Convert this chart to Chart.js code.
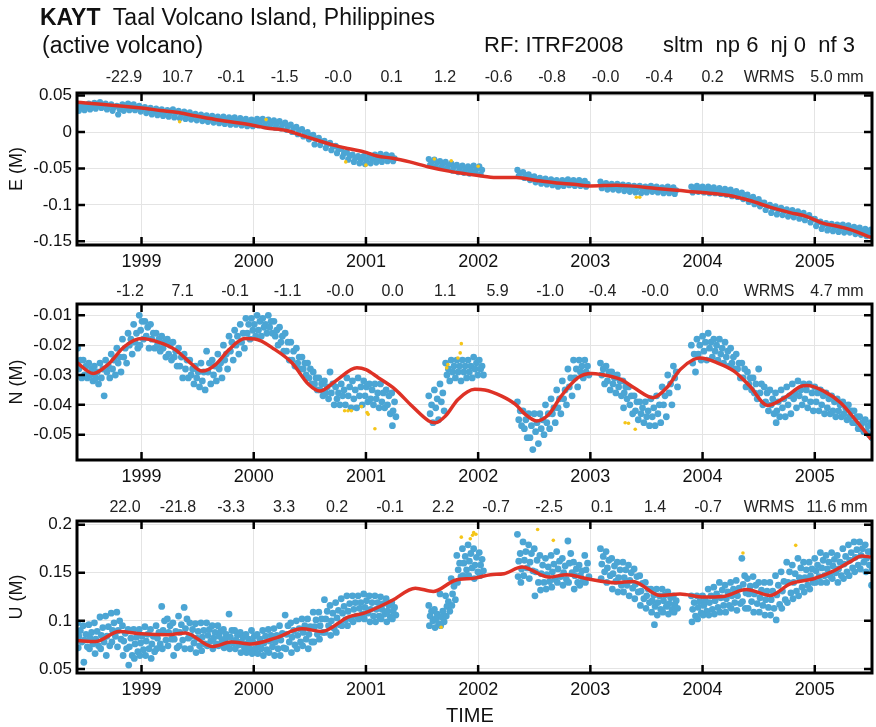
<!DOCTYPE html>
<html>
<head>
<meta charset="utf-8">
<title>KAYT Taal Volcano Island</title>
<script src="https://cdn.jsdelivr.net/npm/chart.js@4.4.1/dist/chart.umd.min.js"></script>
<style>
  body { margin: 0; background: #fff; }
  #page { position: relative; width: 876px; height: 727px; font-family: "Liberation Sans", Arial, sans-serif; color: #111; }
  #page canvas { position: absolute; left: 0; top: 0; }
  .txt { position: absolute; white-space: pre; line-height: 1; }
</style>
</head>
<body>
<div id="page">
  <canvas id="chartE" width="876" height="727"></canvas>
  <canvas id="chartN" width="876" height="727"></canvas>
  <canvas id="chartU" width="876" height="727"></canvas>
  <div class="txt" style="left:40px;top:6px;font-size:23px"><b>KAYT</b>  Taal Volcano Island, Philippines</div>
  <div class="txt" style="left:42px;top:34px;font-size:23px">(active volcano)</div>
  <div class="txt" style="left:484px;top:34px;font-size:22px">RF: ITRF2008</div>
  <div class="txt" style="left:663px;top:34px;font-size:22px">sltm  np 6  nj 0  nf 3</div>
  <div class="txt" style="left:446px;top:705px;font-size:20px">TIME</div>
</div>
<script>
// station KAYT - daily positions (mm)
const yearTicks = [1999, 2000, 2001, 2002, 2003, 2004, 2005];
const eTicks = [-0.15, -0.1, -0.05, 0, 0.05];
const nTicks = [-0.05, -0.04, -0.03, -0.02, -0.01];
const uTicks = [0.05, 0.1, 0.15, 0.2];

const eStats = ['-22.9', '10.7', '-0.1', '-1.5', '-0.0', '0.1', '1.2', '-0.6', '-0.8', '-0.0', '-0.4', '0.2'];
const nStats = ['-1.2', '7.1', '-0.1', '-1.1', '-0.0', '0.0', '1.1', '5.9', '-1.0', '-0.4', '-0.0', '0.0'];
const uStats = ['22.0', '-21.8', '-3.3', '3.3', '0.2', '-0.1', '2.2', '-0.7', '-2.5', '0.1', '1.4', '-0.7'];
const eWrms = '5.0 mm';
const nWrms = '4.7 mm';
const uWrms = '11.6 mm';

// start of each 0.05 yr bin, and where the k-th solution of a bin falls inside it
const epochs = [
  1998.43, 1998.48, 1998.53, 1998.58, 1998.63, 1998.68, 1998.73, 1998.78, 1998.83, 1998.88, 1998.93, 1998.98,
  1999.03, 1999.08, 1999.13, 1999.18, 1999.23, 1999.28, 1999.33, 1999.38, 1999.43, 1999.48,
  1999.53, 1999.58, 1999.63, 1999.68, 1999.73, 1999.78, 1999.83, 1999.88, 1999.93, 1999.98,
  2000.03, 2000.08, 2000.13, 2000.18, 2000.23, 2000.28, 2000.33, 2000.38, 2000.43, 2000.48,
  2000.53, 2000.58, 2000.63, 2000.68, 2000.73, 2000.78, 2000.83, 2000.88, 2000.93, 2000.98,
  2001.03, 2001.08, 2001.13, 2001.18, 2001.23,
  2001.56, 2001.61, 2001.66, 2001.71, 2001.76, 2001.81, 2001.86, 2001.91, 2001.96, 2002.01,
  2002.35, 2002.40, 2002.45, 2002.50, 2002.55, 2002.60, 2002.65, 2002.70, 2002.75, 2002.80, 2002.85, 2002.90, 2002.95,
  2003.09, 2003.14, 2003.19, 2003.24, 2003.29, 2003.34, 2003.39, 2003.44, 2003.49, 2003.54, 2003.59, 2003.64, 2003.69, 2003.74,
  2003.90, 2003.95, 2004.00, 2004.05, 2004.10, 2004.15, 2004.20, 2004.25, 2004.30, 2004.35, 2004.40,
  2004.45, 2004.50, 2004.55, 2004.60, 2004.65, 2004.70, 2004.75, 2004.80, 2004.85, 2004.90, 2004.95,
  2005.00, 2005.05, 2005.10, 2005.15, 2005.20, 2005.25, 2005.30, 2005.35, 2005.40, 2005.45, 2005.50
];
const binOffsets = [0, 0.025, 0.012, 0.037, 0.006, 0.031];

const eObs = [
  [37,33,29],[38,34,30],[39,35,31],[40,36,32],[41,37,33],[39,35,31],[38,34,29],[36,31,24],[38,33,29],[39,34,30],[38,34,30],[36,32,28],
  [34,30,26],[33,28,24],[32,27,23],[31,27,22],[30,26,21],[31,26,20],[29,24,19],[28,23,18],[27,22,17],[25,21,16],
  [24,19,15],[23,19,14],[22,18,13],[21,17,12],[21,16,11],[20,15,10],[20,15,10],[19,14,9],[18,13,8],[17,12,8],
  [18,13,9],[18,13,8],[17,12,7],[16,11,6],[15,10,5],[13,8,3],[10,5,0],[7,2,-3],[4,-1,-6],[0,-5,-10],
  [-4,-9,-17],[-8,-13,-18],[-12,-17,-22],[-15,-20,-25],[-19,-24,-29],[-23,-29,-34],[-28,-33,-38],[-31,-36,-41],[-33,-38,-43],[-33,-38,-44],
  [-32,-37,-43],[-31,-36,-42],[-30,-35,-41],[-31,-35,-40],[-32,-36,-40],
  [-37,-41,-45],[-38,-42,-47],[-40,-44,-48],[-41,-46,-50],[-43,-48,-53],[-45,-50,-55],[-46,-51,-56],[-47,-52,-57],[-46,-51,-56],[-47,-52,-58],
  [-52,-56,-60],[-55,-59,-63],[-58,-62,-66],[-61,-65,-69],[-63,-67,-71],[-64,-68,-72],[-65,-69,-73],[-66,-70,-75],[-66,-70,-74],[-65,-69,-73],[-66,-70,-74],[-66,-70,-74],[-67,-71,-75],
  [-68,-72,-77],[-70,-74,-79],[-71,-75,-79],[-71,-75,-80],[-72,-76,-81],[-73,-77,-82],[-74,-78,-83],[-74,-78,-84],[-75,-79,-83],[-74,-78,-82],[-75,-79,-83],[-76,-80,-84],[-75,-79,-84],[-76,-80,-85],
  [-75,-79,-83],[-74,-78,-82],[-75,-79,-83],[-75,-79,-84],[-76,-80,-84],[-77,-81,-85],[-78,-82,-86],[-79,-83,-88],[-81,-85,-89],[-83,-87,-92],[-86,-91,-96],
  [-89,-94,-99],[-92,-97,-102],[-97,-102,-107],[-100,-105,-111],[-102,-107,-113],[-104,-109,-114],[-106,-111,-116],[-107,-112,-117],[-109,-114,-119],[-111,-116,-121],[-114,-119,-124],
  [-119,-124,-129],[-123,-128,-133],[-125,-130,-135],[-126,-131,-136],[-127,-132,-137],[-127,-132,-138],[-128,-133,-138],[-130,-135,-140],[-131,-136,-141],[-133,-138,-143],[-134,-139,-144]
];

const nObs = [
  [-21,-25,-28,-31],[-25,-27,-30,-31],[-26,-28,-30,-32],[-27,-29,-31,-33],[-26,-28,-31,-37],[-25,-27,-29,-31],
  [-23,-25,-28,-30],[-21,-24,-26,-29],[-18,-21,-24,-26],[-16,-18,-20,-23],[-13,-16,-19,-21],[-10,-12,-15,-18,-20],
  [-12,-14,-17,-21],[-13,-16,-18,-21],[-16,-18,-20,-22],[-17,-19,-21,-24],[-18,-20,-23,-25],[-19,-22,-24,-27],
  [-21,-24,-27,-31],[-23,-25,-28,-31],[-25,-28,-30,-33],[-27,-29,-31,-34],
  [-26,-29,-32,-35],[-22,-26,-29,-33],[-25,-27,-30,-32],[-23,-26,-28,-31],[-20,-23,-25,-28],[-17,-19,-22,-25],
  [-15,-17,-20,-23],[-13,-16,-19,-21],[-11,-13,-16,-18],[-11,-13,-15,-17],
  [-10,-12,-15,-17],[-11,-13,-14,-16],[-10,-12,-14,-16],[-12,-15,-17,-20],[-14,-17,-19,-22],[-16,-19,-22,-25],
  [-19,-22,-25,-27],[-21,-24,-26,-28],[-24,-26,-28,-30],[-26,-28,-31,-33],
  [-29,-31,-33,-35],[-31,-33,-35,-37],[-32,-34,-36,-38],[-29,-33,-36,-40],[-34,-36,-38,-40],[-33,-35,-37,-40],
  [-31,-34,-37,-41],[-32,-35,-38,-41],[-31,-34,-37,-40],[-32,-34,-37,-39],
  [-33,-35,-38,-40],[-33,-36,-38,-41],[-33,-36,-39,-41],[-35,-37,-40,-43],[-36,-39,-42,-44,-47],
  [-37,-40,-43,-46],[-35,-38,-41,-45],[-33,-36,-39,-42],[-26,-28,-30,-32],[-25,-27,-29,-31],
  [-25,-27,-29,-32],[-25,-27,-29,-31],[-25,-27,-29,-31],[-24,-26,-28,-30],[-25,-27,-28,-30],
  [-39,-42,-45,-47],[-42,-45,-48,-51],[-43,-47,-51,-55],[-43,-46,-49,-53],[-43,-45,-48,-50],[-40,-43,-46,-48],
  [-38,-41,-43,-46],[-35,-38,-41,-43],[-32,-35,-38,-40],[-28,-31,-34,-37],[-25,-28,-31,-34],[-25,-27,-29,-31],[-25,-27,-29,-30],
  [-26,-28,-30,-33],[-27,-29,-32,-35],[-29,-31,-33,-36],[-30,-32,-34,-37],[-32,-34,-36,-38,-41],[-34,-37,-40,-43],
  [-37,-39,-42,-45],[-39,-41,-43,-46],[-39,-42,-44,-47],[-38,-41,-44,-47],[-37,-40,-43,-46],[-34,-37,-40,-44],
  [-30,-33,-36,-40],[-27,-29,-31,-34],
  [-20,-23,-26,-29],[-18,-20,-23,-25],[-17,-19,-22,-25],[-16,-19,-21,-24],[-18,-20,-22,-25],[-18,-21,-23,-26],
  [-19,-22,-24,-27],[-21,-24,-26,-28],[-23,-26,-28,-31],[-26,-28,-31,-34],[-29,-31,-33,-35],
  [-31,-33,-36,-38],[-28,-33,-36,-40],[-34,-36,-39,-42],[-35,-38,-40,-43],[-36,-39,-42,-44,-46],[-35,-38,-41,-44],
  [-34,-37,-40,-43],[-33,-36,-38,-41],[-32,-35,-37,-40],[-33,-35,-38,-41],[-33,-36,-39,-42],
  [-34,-36,-39,-42],[-35,-37,-40,-43],[-36,-38,-41,-43],[-37,-39,-42,-44],[-38,-40,-42,-44],[-39,-41,-43,-45],
  [-40,-42,-44,-46],[-42,-44,-46,-48],[-44,-46,-48,-49],[-45,-47,-49,-50],[-46,-48,-51,-54]
];

const uObs = [
  [98,90,84,78,72],[95,86,80,73,57],[96,88,82,76,71],[98,89,81,74,66],[104,93,85,78,71],[105,94,84,74,64],
  [108,98,90,84,78],[109,100,90,81,73],[95,87,79,71,64],[91,82,73,64,54],[91,83,76,68,61],[91,84,77,70,64],
  [94,86,79,71,64],[91,84,76,68,61],[95,88,82,76,71],[115,100,90,80,71],[102,95,88,81,74],[98,89,81,72,64],
  [105,96,88,80,74],[114,102,92,82,71],[98,91,84,77,71],[97,89,82,74,67],
  [98,90,83,76,69],[98,91,85,79,74],[95,88,82,76,71],[95,89,84,79,74],[91,86,81,76,72],[107,90,83,77,71],
  [90,85,80,75,71],[88,83,78,72,67],[86,81,76,71,67],[90,84,78,71,66],
  [86,81,76,71,66],[90,84,77,70,64],[91,85,79,73,67],[92,85,78,71,64],[95,87,80,72,64],[106,95,86,78,71],
  [98,90,83,75,67],[100,92,85,78,71],[102,95,88,81,74],[102,94,86,78,71],
  [109,101,94,86,78],[109,102,95,88,81],[122,110,102,95,88],[116,108,100,92,85],[119,111,103,96,88],[123,115,108,101,95],
  [126,118,110,102,95],[126,119,112,105,99],[126,119,113,107,102],[128,121,114,108,102],
  [126,119,112,105,99],[126,119,112,105,99],[125,118,112,107,102],[123,116,110,104,99],[119,114,110,106,102],
  [116,110,105,100,95],[112,107,102,97,93],[128,110,104,99,95],[126,120,115,110,105],[144,136,128,122,116],
  [168,160,153,146,140],[175,167,160,153,147],[179,170,162,155,147],[175,166,158,151,144],[171,164,158,152,147],
  [190,170,162,154,146,140],[182,172,163,155,147],[179,170,161,152,144],[175,163,151,140,126],[168,158,149,140,132],
  [165,156,148,141,133],[168,159,151,143,135],[172,162,154,146,140],[165,157,150,143,137],[183,170,160,150,140],
  [161,154,147,140,133],[158,152,147,142,137],[168,160,153,146,140],
  [175,167,159,151,144],[172,163,155,147,140],[165,157,149,141,133],[161,153,145,137,130],[161,153,145,137,130],
  [158,150,142,134,126],[154,146,138,130,123],[147,139,131,123,116],[140,133,126,119,113],[133,127,121,115,109,96],
  [133,126,119,112,106],[133,127,121,115,109],[130,124,118,112,107],[126,121,117,113,109],
  [126,119,112,105,99],[126,120,114,108,102],[126,121,116,110,106],[133,126,119,112,106],[135,128,121,114,107],
  [140,132,124,116,109],[137,130,123,116,109],[140,133,126,119,113],[142,134,126,118,111],[165,147,138,129,120,113],
  [144,136,128,120,113],
  [146,137,128,118,109],[140,132,124,116,109],[140,131,122,114,106],[140,131,122,113,106],[147,137,127,117,101],
  [151,141,131,122,113],[161,151,140,129,119],[158,149,140,131,123],[165,155,145,135,126],[161,153,145,137,130],
  [161,154,147,140,133],
  [165,158,152,146,140],[171,163,155,147,140],[168,161,154,147,140],[171,164,157,150,144],[168,161,154,147,140],
  [175,167,159,151,144],[179,171,163,155,147],[182,174,166,158,151],[182,175,168,161,154],[179,172,165,158,151],
  [172,163,154,145,137]
];

// points flagged as outliers (yellow)
const eOut = [[1999.34,14],[2000.11,17],[2000.82,-41],[2001.0,-45.5],[2001.61,-37],[2001.76,-39.5],[2002.0,-47],[2003.41,-89.5],[2003.44,-89.5]];
const nOut = [[2000.81,-42],[2000.84,-42],[2000.87,-42],[2000.96,-40.6],[2001.01,-42.6],[2001.02,-43.2],[2001.08,-48],
  [2001.72,-27.6],[2001.73,-26.5],[2001.82,-24.3],[2001.84,-22.6],[2001.85,-19.5],[2003.31,-46],[2003.34,-46.2],[2003.40,-48.2]];
const uOut = [[2001.67,93.4],[2001.85,187],[2001.93,185.4],[2001.95,189],[2001.96,191.7],[2001.98,190],[2002.53,195],[2002.67,183.7],[2004.36,170.5],[2004.83,178.5]];

// model fit (red)
const eFit = [[1998.42,41],[1999.0,33],[1999.17,29.5],[1999.31,27],[1999.46,22.7],[1999.7,16],[2000.0,9],[2000.11,5.5],
  [2000.29,2],[2000.41,-3.6],[2000.56,-11],[2000.71,-18],[2000.85,-23],[2001.0,-28],[2001.1,-33],[2001.24,-36],[2001.39,-41],
  [2001.56,-48],[2001.75,-54],[2002.0,-59.6],[2002.16,-62.4],[2002.34,-62.4],[2002.52,-66.5],[2002.7,-70],[2002.85,-71.6],
  [2003.0,-73.9],[2003.23,-73],[2003.35,-73.9],[2003.59,-77.5],[2003.77,-80],[2004.0,-83],[2004.24,-87],[2004.42,-94],
  [2004.6,-103],[2004.78,-110.6],[2004.93,-116],[2005.07,-125],[2005.19,-129],[2005.31,-133.5],[2005.5,-144.5]];
const nFit = [[1998.42,-25.7],[1998.57,-29.5],[1998.70,-26.5],[1998.85,-20.4],[1999.0,-17.8],[1999.15,-19.0],[1999.30,-21.5],
  [1999.42,-25.4],[1999.54,-28.7],[1999.66,-26.5],[1999.78,-21.5],[1999.92,-17.8],[2000.01,-17.9],[2000.19,-21.5],[2000.34,-25.9],
  [2000.49,-33.2],[2000.59,-35.4],[2000.73,-32.0],[2000.92,-27.6],[2001.0,-28.2],[2001.11,-30.9],[2001.26,-34.8],[2001.41,-40.4],
  [2001.56,-45.4],[2001.62,-46],[2001.71,-43.7],[2001.82,-38.2],[2001.97,-34.8],[2002.06,-35],[2002.21,-37.1],[2002.33,-39.8],
  [2002.42,-43.2],[2002.52,-45.4],[2002.63,-43.2],[2002.74,-37.1],[2002.89,-30.9],[2003.01,-29.5],[2003.09,-29.8],[2003.27,-31.5],
  [2003.39,-34.3],[2003.56,-37.6],[2003.68,-34.3],[2003.80,-28.2],[2003.92,-24.8],[2003.98,-24.3],[2004.13,-25.9],[2004.28,-28.7],
  [2004.42,-33.7],[2004.58,-40.2],[2004.75,-37.1],[2004.87,-33.9],[2004.93,-33.5],[2005.08,-35.4],[2005.23,-39.3],[2005.37,-45.4],
  [2005.50,-51.5]];
const uFit = [[1998.42,79.5],[1998.59,78.5],[1998.80,89],[1999.0,86.5],[1999.24,85.5],[1999.39,87.5],[1999.63,73.3],[1999.80,78],
  [1999.98,76],[2000.19,82],[2000.43,91.7],[2000.61,89],[2000.84,104],[2000.99,108.3],[2001.23,121],[2001.44,134],[2001.60,130.6],
  [2001.79,142],[2001.97,144.4],[2002.11,148],[2002.23,149],[2002.39,156],[2002.63,145.5],[2002.79,148],[2002.97,143.8],
  [2003.23,139.6],[2003.38,141],[2003.62,126.4],[2003.80,128],[2004.01,124.7],[2004.18,125.3],[2004.39,132.6],[2004.60,126.4],
  [2004.78,138.5],[2004.99,143.8],[2005.16,151.4],[2005.31,161],[2005.42,167.4],[2005.50,166.3]];

const FONT = '"Liberation Sans", Arial, sans-serif';
const BLUE = 'rgb(75,165,212)';
const RED = 'rgb(222,50,38)';
const YELLOW = 'rgb(245,197,24)';
const GRID = '#e4e4e4';

function obsPoints(rows) {
  const pts = [];
  rows.forEach((row, i) => row.forEach((mm, k) => pts.push({ x: epochs[i] + binOffsets[k], y: mm / 1000 })));
  return pts;
}
const toM = list => list.map(([x, mm]) => ({ x: x, y: mm / 1000 }));

// black box with inward tick marks
const frame = {
  id: 'frame',
  afterDatasetsDraw(chart) {
    const { ctx, chartArea: a, scales } = chart;
    ctx.save();
    ctx.strokeStyle = '#000';
    ctx.lineWidth = 3;
    ctx.strokeRect(a.left, a.top, a.right - a.left, a.bottom - a.top);
    ctx.lineWidth = 2.5;
    ctx.beginPath();
    scales.x.ticks.forEach(t => {
      const px = scales.x.getPixelForValue(t.value);
      ctx.moveTo(px, a.top); ctx.lineTo(px, a.top + 8);
      ctx.moveTo(px, a.bottom); ctx.lineTo(px, a.bottom - 8);
    });
    scales.y.ticks.forEach(t => {
      const py = scales.y.getPixelForValue(t.value);
      ctx.moveTo(a.left, py); ctx.lineTo(a.left + 8, py);
      ctx.moveTo(a.right, py); ctx.lineTo(a.right - 8, py);
    });
    ctx.stroke();
    ctx.restore();
  }
};

// the row of numbers above each panel
const statsRow = {
  id: 'statsRow',
  afterDraw(chart, args, opts) {
    const ctx = chart.ctx;
    const y = chart.chartArea.top - opts.gap;
    ctx.save();
    ctx.font = '16px ' + FONT;
    ctx.fillStyle = '#222';
    ctx.textAlign = 'center';
    ctx.textBaseline = 'middle';
    opts.values.forEach((v, i) => ctx.fillText(v, opts.x0 + i * opts.step, y));
    ctx.fillText('WRMS', 769, y);
    ctx.fillText(opts.wrms, 837, y);
    ctx.restore();
  }
};

function panel(id, o) {
  return new Chart(document.getElementById(id), {
    type: 'scatter',
    data: {
      datasets: [
        { data: toM(o.fit), showLine: true, borderColor: RED, borderWidth: 3.5, pointRadius: 0,
          cubicInterpolationMode: 'monotone', order: 0 },
        { data: toM(o.out), backgroundColor: YELLOW, borderWidth: 0, pointRadius: 1.8, order: 1 },
        { data: obsPoints(o.obs), backgroundColor: BLUE, borderWidth: 0, pointRadius: o.dot, order: 2 }
      ]
    },
    options: {
      responsive: false,
      animation: false,
      events: [],
      layout: { padding: { left: 0, right: 4, top: o.top, bottom: 727 - 28 - o.bottom } },
      plugins: {
        legend: { display: false },
        tooltip: { enabled: false },
        statsRow: { values: o.stats, wrms: o.wrms, x0: o.x0, step: o.step, gap: o.gap }
      },
      scales: {
        x: {
          type: 'linear', min: 1998.425, max: 2005.51,
          afterBuildTicks: s => { s.ticks = yearTicks.map(v => ({ value: v })); },
          afterFit: s => { s.height = 28; },
          grid: { color: GRID, drawTicks: false },
          border: { display: false },
          ticks: { padding: 6, color: '#111', font: { size: 18, family: FONT }, callback: v => String(v) }
        },
        y: {
          min: o.min, max: o.max,
          afterBuildTicks: s => { s.ticks = o.ticks.map(v => ({ value: v })); },
          afterFit: s => { s.width = 77; },
          grid: { color: GRID, drawTicks: false },
          border: { display: false },
          title: { display: true, text: o.label, color: '#111', font: { size: 18, family: FONT }, padding: { top: 6, bottom: 0 } },
          ticks: { padding: 5, color: '#111', font: { size: 17, family: FONT }, callback: v => String(v) }
        }
      }
    },
    plugins: [frame, statsRow]
  });
}

panel('chartE', { obs: eObs, out: eOut, fit: eFit, ticks: eTicks, min: -0.155, max: 0.0535, label: 'E (M)', dot: 3.1,
  top: 93, bottom: 245, stats: eStats, wrms: eWrms, x0: 124, step: 53.5, gap: 15 });
panel('chartN', { obs: nObs, out: nOut, fit: nFit, ticks: nTicks, min: -0.0585, max: -0.0062, label: 'N (M)', dot: 3.4,
  top: 304, bottom: 460, stats: nStats, wrms: nWrms, x0: 130, step: 52.5, gap: 12 });
panel('chartU', { obs: uObs, out: uOut, fit: uFit, ticks: uTicks, min: 0.0458, max: 0.2038, label: 'U (M)', dot: 3.4,
  top: 521, bottom: 673, stats: uStats, wrms: uWrms, x0: 125, step: 53, gap: 13 });
</script>
</body>
</html>
